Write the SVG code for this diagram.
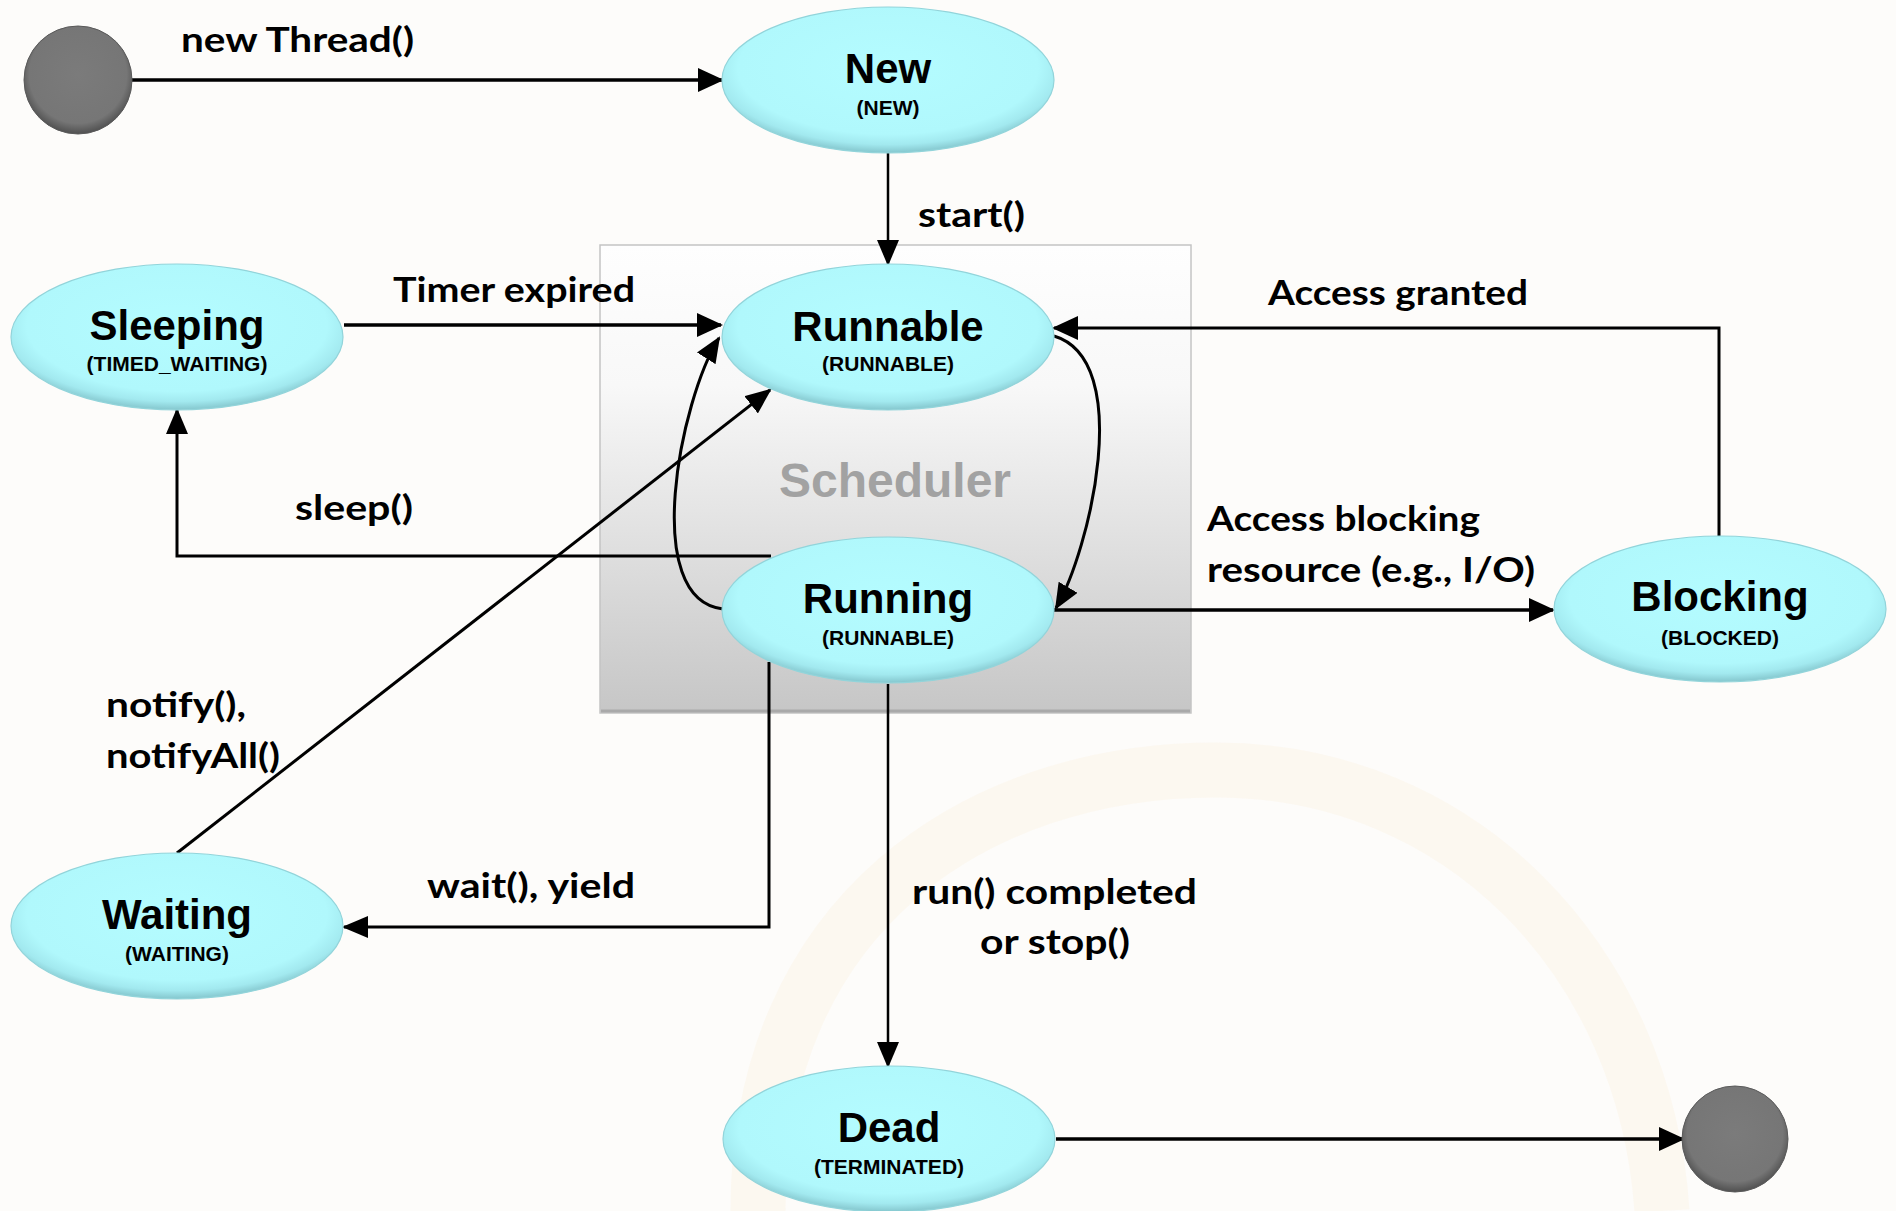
<svg xmlns="http://www.w3.org/2000/svg" width="1896" height="1211" viewBox="0 0 1896 1211">
<defs>
  <radialGradient id="cyan" cx="50%" cy="42%" r="58%">
    <stop offset="0" stop-color="#b4fcff"/>
    <stop offset="0.78" stop-color="#b0f8fc"/>
    <stop offset="0.9" stop-color="#a2e9ef"/>
    <stop offset="1" stop-color="#84c6cd"/>
  </radialGradient>
  <radialGradient id="gray" cx="50%" cy="45%" r="55%">
    <stop offset="0" stop-color="#7b7b7b"/>
    <stop offset="0.82" stop-color="#767676"/>
    <stop offset="1" stop-color="#505050"/>
  </radialGradient>
  <linearGradient id="sched" x1="0" y1="0" x2="0" y2="1">
    <stop offset="0" stop-color="#fefefe"/>
    <stop offset="0.3" stop-color="#f8f8f8"/>
    <stop offset="1" stop-color="#c6c6c6"/>
  </linearGradient>
  <marker id="arr" markerUnits="userSpaceOnUse" markerWidth="26" markerHeight="24" refX="24" refY="12" orient="auto">
    <path d="M0,0 L26,12 L0,24 Z" fill="#000"/>
  </marker>
  <marker id="arrs" markerUnits="userSpaceOnUse" markerWidth="26" markerHeight="22" refX="24" refY="11" orient="auto">
    <path d="M0,0 L26,11 L0,22 Z" fill="#000"/>
  </marker>
</defs>
<style>
  .node { fill: url(#cyan); stroke: #92d4da; stroke-width: 1.2; }
  .term { fill: url(#gray); stroke: #5a5a5a; stroke-width: 1; }
  .title { font-family: "Liberation Sans", Arial, sans-serif; font-weight: bold; font-size: 42px; fill: #000; text-anchor: middle; }
  .sub { font-family: "Liberation Sans", Arial, sans-serif; font-weight: bold; font-size: 21px; fill: #000; text-anchor: middle; }
  .lbl { font-family: Lato, "Open Sans", sans-serif; font-weight: bold; font-size: 35px; fill: #000; }
  .thick { fill: none; stroke: #000; stroke-width: 3.5; marker-end: url(#arr); }
  .thin { fill: none; stroke: #000; stroke-width: 2.5; marker-end: url(#arrs); }
</style>
<rect width="1896" height="1211" fill="#fdfcfa"/>
<path d="M 758 1211 C 758 915 975 770 1216 770 C 1460 770 1645 960 1662 1211" fill="none" stroke="#fcf5ea" stroke-width="55" opacity="0.6"/>

<g id="scheduler">
  <rect x="600" y="245" width="591" height="468" fill="url(#sched)" stroke="#c4c4c4" stroke-width="1.5"/>
  <line x1="601" y1="711" x2="1190" y2="711" stroke="#a9a9a9" stroke-width="3"/>
  <text x="895" y="497" font-family="Liberation Sans, Arial, sans-serif" font-weight="bold" font-size="48" fill="#a2a2a2" text-anchor="middle">Scheduler</text>
</g>

<g id="connectors">
  <path class="thick" d="M132 80 H722"/>
  <path class="thin" d="M888 153 V264"/>
  <path class="thick" d="M344 325 H721"/>
  <path class="thick" d="M1719 536 V328 H1054" style="stroke-width:3"/>
  <path class="thin" d="M1054 336 C1135 360 1090 550 1056 608" style="stroke-width:3"/>
  <path class="thin" d="M723 609 C640 600 680 400 719 338" style="stroke-width:3"/>
  <path class="thin" d="M771 556 H177 V410" style="stroke-width:3"/>
  <path class="thin" d="M177 853 L770 390" style="stroke-width:3"/>
  <path class="thick" d="M1054 610 H1553"/>
  <path class="thin" d="M769 662 V927 H344" style="stroke-width:3"/>
  <path class="thin" d="M888 684 V1066"/>
  <path class="thick" d="M1056 1139 H1683"/>

  <text class="lbl" x="181" y="52" textLength="233" lengthAdjust="spacingAndGlyphs">new Thread()</text>
  <text class="lbl" x="918" y="227" textLength="107" lengthAdjust="spacingAndGlyphs">start()</text>
  <text class="lbl" x="393" y="302" textLength="242" lengthAdjust="spacingAndGlyphs">Timer expired</text>
  <text class="lbl" x="1268" y="305" textLength="260" lengthAdjust="spacingAndGlyphs">Access granted</text>
  <text class="lbl" x="295" y="520" textLength="118" lengthAdjust="spacingAndGlyphs">sleep()</text>
  <text class="lbl" x="1207" y="531" textLength="273" lengthAdjust="spacingAndGlyphs">Access blocking</text>
  <text class="lbl" x="1207" y="582" textLength="328" lengthAdjust="spacingAndGlyphs">resource (e.g., I/O)</text>
  <text class="lbl" x="106" y="717" textLength="140" lengthAdjust="spacingAndGlyphs">notify(),</text>
  <text class="lbl" x="106" y="768" textLength="174" lengthAdjust="spacingAndGlyphs">notifyAll()</text>
  <text class="lbl" x="427" y="898" textLength="208" lengthAdjust="spacingAndGlyphs">wait(), yield</text>
  <text class="lbl" x="912" y="904" textLength="285" lengthAdjust="spacingAndGlyphs">run() completed</text>
  <text class="lbl" x="980" y="954" textLength="150" lengthAdjust="spacingAndGlyphs">or stop()</text>
</g>

<g id="start">
  <circle class="term" cx="78" cy="80" r="54"/>
</g>
<g id="new">
  <ellipse class="node" cx="888" cy="80" rx="166" ry="73"/>
  <text class="title" x="888" y="83">New</text>
  <text class="sub" x="888" y="115">(NEW)</text>
</g>
<g id="runnable">
  <ellipse class="node" cx="888" cy="337" rx="166" ry="73"/>
  <text class="title" x="888" y="341">Runnable</text>
  <text class="sub" x="888" y="371">(RUNNABLE)</text>
</g>
<g id="sleeping">
  <ellipse class="node" cx="177" cy="337" rx="166" ry="73"/>
  <text class="title" x="177" y="340">Sleeping</text>
  <text class="sub" x="177" y="371">(TIMED_WAITING)</text>
</g>
<g id="running">
  <ellipse class="node" cx="888" cy="610" rx="166" ry="73"/>
  <text class="title" x="888" y="613">Running</text>
  <text class="sub" x="888" y="645">(RUNNABLE)</text>
</g>
<g id="blocking">
  <ellipse class="node" cx="1720" cy="609" rx="166" ry="73"/>
  <text class="title" x="1720" y="611">Blocking</text>
  <text class="sub" x="1720" y="645">(BLOCKED)</text>
</g>
<g id="waiting">
  <ellipse class="node" cx="177" cy="926" rx="166" ry="73"/>
  <text class="title" x="177" y="929">Waiting</text>
  <text class="sub" x="177" y="961">(WAITING)</text>
</g>
<g id="dead">
  <ellipse class="node" cx="889" cy="1139" rx="166" ry="73"/>
  <text class="title" x="889" y="1142">Dead</text>
  <text class="sub" x="889" y="1174">(TERMINATED)</text>
</g>
<g id="end">
  <circle class="term" cx="1735" cy="1139" r="53"/>
</g>
</svg>
